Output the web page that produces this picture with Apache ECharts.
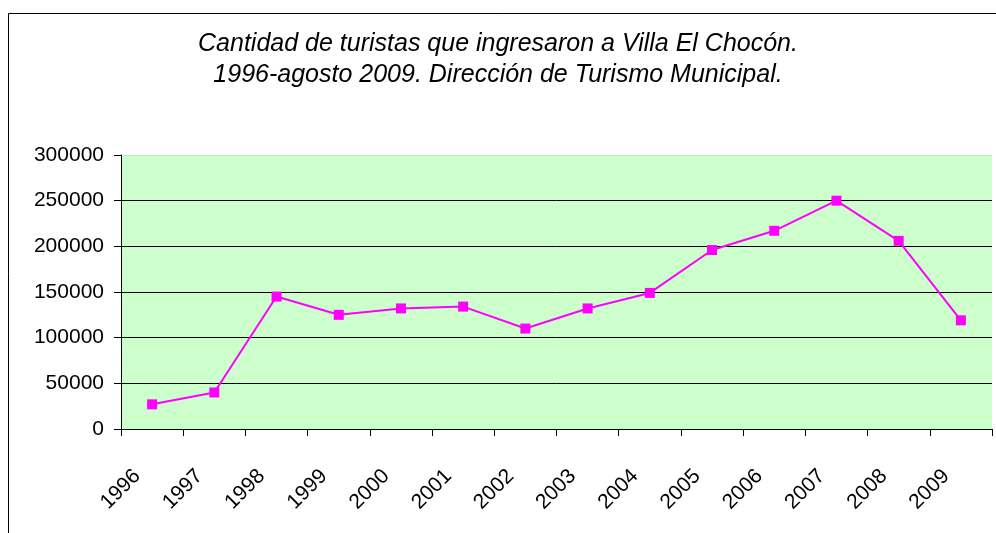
<!DOCTYPE html>
<html>
<head>
<meta charset="utf-8">
<script src="https://cdn.jsdelivr.net/npm/echarts@6/dist/echarts.min.js"></script>
<style>
html,body{margin:0;padding:0;background:#fff;}
#chart{width:996px;height:533px;}
</style>
</head>
<body>
<div id="chart"></div>
<script>
const years = ['1996','1997','1998','1999','2000','2001','2002','2003','2004','2005','2006','2007','2008','2009'];
const tourists = [27000, 40000, 145000, 125000, 132000, 134000, 110000, 132000, 149000, 196000, 217000, 250000, 206000, 119000];
const yTicks = { min: 0, max: 300000, interval: 50000 };
const titleLines = ['Cantidad de turistas que ingresaron a Villa El Chocón.', '1996-agosto 2009. Dirección de Turismo Municipal.'];

const chart = echarts.init(document.getElementById('chart'), null, { renderer: 'canvas' });
const font = '"Liberation Sans", Arial, sans-serif';
chart.setOption({
  animation: false,
  backgroundColor: '#ffffff',
  title: {
    text: titleLines.join('\n'),
    left: 'center',
    top: 29,
    padding: 0,
    textStyle: { fontFamily: font, fontSize: 25, fontStyle: 'italic', fontWeight: 'normal', color: '#000', lineHeight: 31 }
  },
  graphic: [{
    type: 'rect', silent: true, z: 100,
    shape: { x: 8.5, y: 13.5, width: 1000, height: 540 },
    style: { fill: 'none', stroke: '#000', lineWidth: 1 }
  }],
  grid: { left: 121, right: 4, top: 155, bottom: 104, show: true, backgroundColor: '#CCFFCC', borderWidth: 0 },
  xAxis: {
    type: 'category',
    data: years,
    boundaryGap: true,
    axisLine: { lineStyle: { color: '#000', width: 1 } },
    axisTick: { show: true, length: 7, inside: false, alignWithLabel: false, lineStyle: { color: '#000' } },
    axisLabel: { rotate: 45, margin: 29, padding: [0, 21, 0, 0], fontFamily: font, fontSize: 21, color: '#000', interval: 0 },
    splitLine: { show: false }
  },
  yAxis: {
    type: 'value',
    min: yTicks.min, max: yTicks.max, interval: yTicks.interval,
    axisLine: { show: true, lineStyle: { color: '#000', width: 1 } },
    axisTick: { show: true, length: 7, lineStyle: { color: '#000' } },
    axisLabel: { margin: 17, fontFamily: font, fontSize: 21, color: '#000', formatter: function (v) { return String(v); } },
    splitLine: { show: true, lineStyle: { color: ['#000','#000','#000','#000','#000','#000','#BDEEBD'], width: 1 } }
  },
  series: [{
    type: 'line',
    data: tourists,
    symbol: 'rect',
    symbolSize: 10,
    showSymbol: true,
    lineStyle: { color: '#FF00FF', width: 2 },
    itemStyle: { color: '#FF00FF' }
  }]
});
</script>
</body>
</html>
